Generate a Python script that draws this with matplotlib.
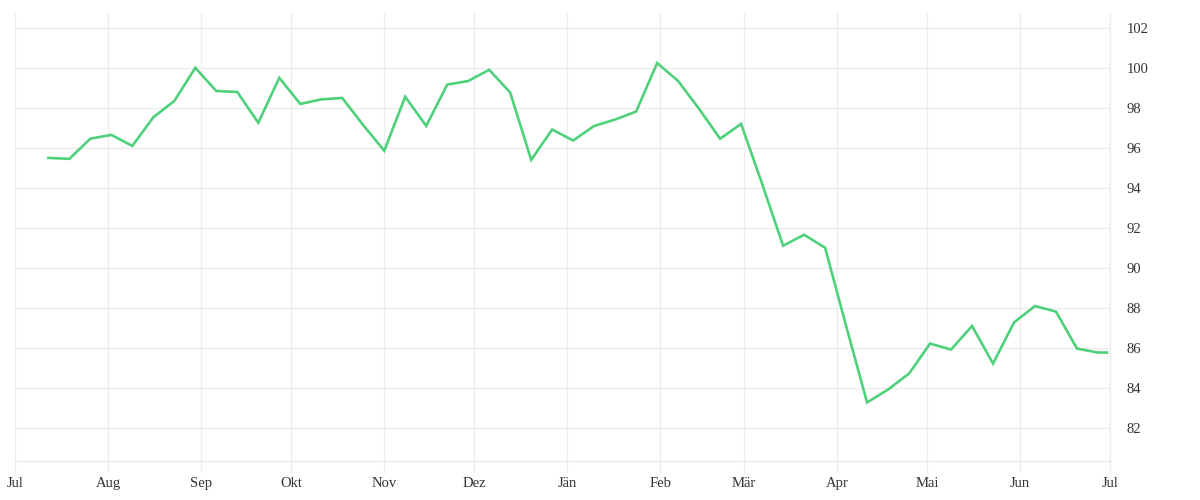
import matplotlib
matplotlib.use("Agg")
import matplotlib.pyplot as plt
import pandas as pd

# weekly values
dates = list(pd.date_range("2022-07-12", periods=51, freq="7D")) + [pd.Timestamp("2023-06-30")]
values = [95.51, 95.46, 96.47, 96.66, 96.11, 97.54, 98.36, 100.02, 98.86, 98.81,
          97.27, 99.52, 98.21, 98.44, 98.51, 97.15, 95.87, 98.57, 97.11, 99.18,
          99.36, 99.92, 98.78, 95.41, 96.93, 96.38, 97.11, 97.43, 97.83, 100.26,
          99.36, 97.96, 96.47, 97.21, 94.21, 91.11, 91.66, 91.01, 87.10, 83.26,
          83.91, 84.71, 86.21, 85.91, 87.09, 85.21, 87.27, 88.09, 87.81, 85.96,
          85.76, 85.76]

month_ticks = pd.date_range("2022-07-01", "2023-07-01", freq="MS")
month_labels = ["Jul", "Aug", "Sep", "Okt", "Nov", "Dez", "Jän", "Feb", "Mär",
                "Apr", "Mai", "Jun", "Jul"]
y_ticks = list(range(82, 103, 2))

fig = plt.figure(figsize=(12, 5), dpi=100)
ax = fig.add_axes([0.0128, 0.078, 0.9122, 0.8966])

ax.plot(dates, values, color="#4fd17c", lw=1.9, solid_joinstyle="miter")

ax.set_xlim(pd.Timestamp("2022-07-01"), pd.Timestamp("2023-07-01"))
ax.set_ylim(80.33, 102.78)

ax.set_xticks(month_ticks)
ax.set_xticklabels(month_labels)
ax.set_yticks(y_ticks)
ax.yaxis.tick_right()

ax.grid(True, color="#ececec", lw=0.9)
ax.set_axisbelow(True)
for s in ["top", "left"]:
    ax.spines[s].set_visible(False)
ax.spines["bottom"].set_color("#e6e6e6")
ax.spines["right"].set_color("#ececec")

# ticks in px -> pt (dpi 100)
ax.tick_params(axis="x", length=8.6, width=0.9, color="#ececec", pad=3,
               labelsize=10.5, labelcolor="#333333")
ax.tick_params(axis="y", length=0, pad=12, labelsize=10.5, labelcolor="#333333")
for lab in ax.get_xticklabels() + ax.get_yticklabels():
    lab.set_fontfamily("Liberation Serif")
for lab in ax.get_yticklabels():
    lab.set_horizontalalignment("left")

fig.savefig("out.png", dpi=100)
